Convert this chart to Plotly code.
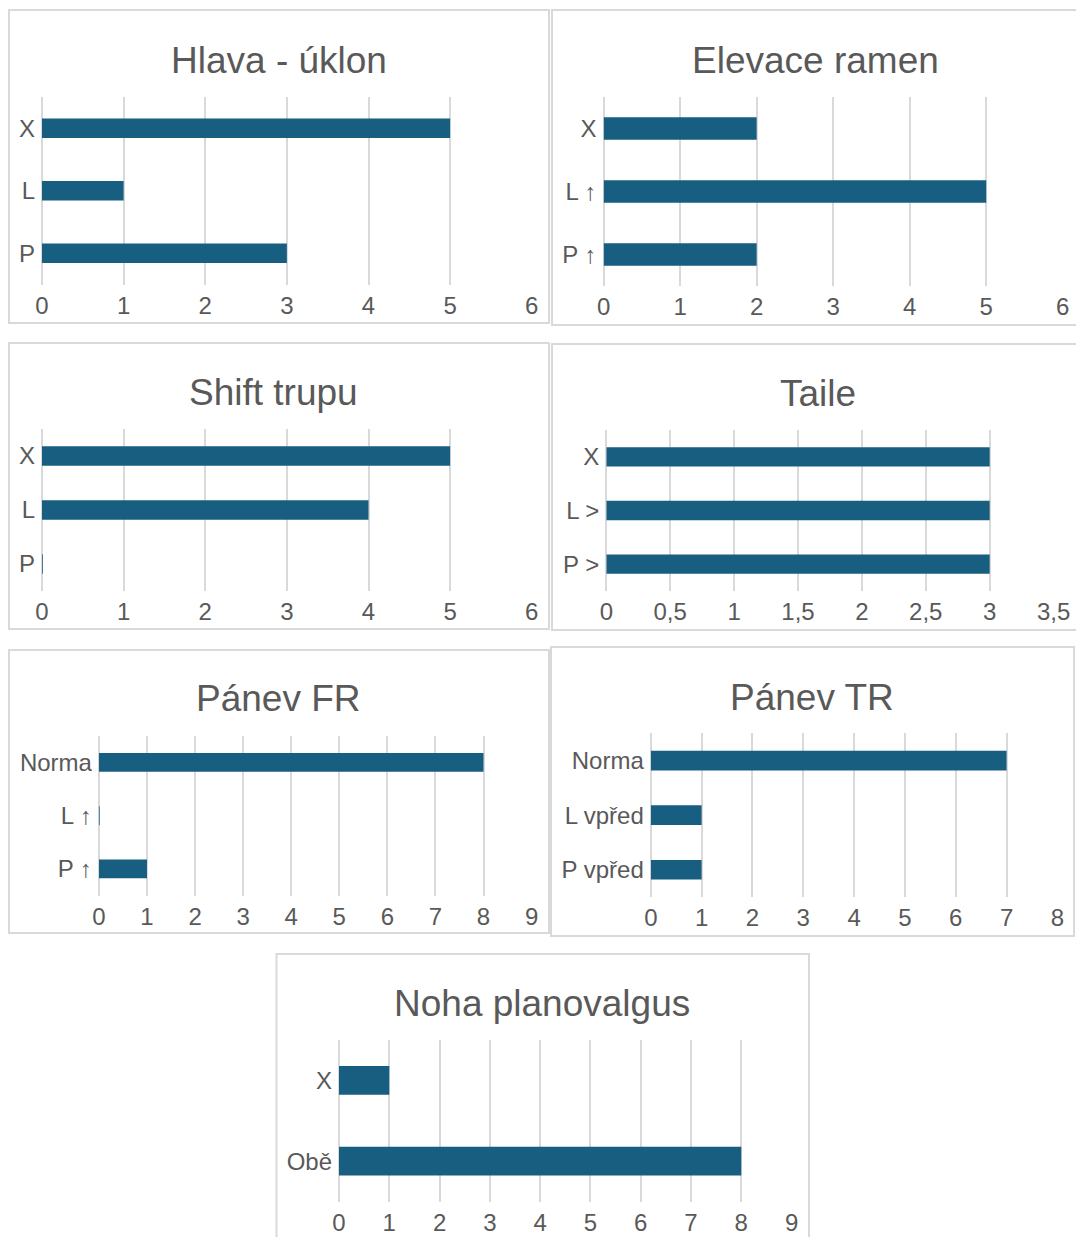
import plotly.graph_objects as go

# Posture screening results: counts per finding, one horizontal bar chart per body segment
hlava_cats = ["P", "L", "X"]
hlava_vals = [3, 1, 5]

elevace_cats = ["P ↑", "L ↑", "X"]
elevace_vals = [2, 5, 2]

shift_cats = ["P", "L", "X"]
shift_vals = [0, 4, 5]

taile_cats = ["P >", "L >", "X"]
taile_vals = [3, 3, 3]

panev_fr_cats = ["P ↑", "L ↑", "Norma"]
panev_fr_vals = [1, 0, 8]

panev_tr_cats = ["P vpřed", "L vpřed", "Norma"]
panev_tr_vals = [1, 1, 7]

noha_cats = ["Obě", "X"]
noha_vals = [8, 1]

W, H = 1076, 1237
BAR = "#175E80"
GRID = "#D9D9D9"
TEXT = "#595959"
FONT = "Liberation Sans, Arial, sans-serif"
TICK_SIZE = 24
TITLE_SIZE = 37

# title, categories, values, x max, x step,
# plot box (left, right, top, bottom) px, title centre (x, y) px, frame (l, t, r, b) px, bar thickness
panels = [
    ("Hlava - úklon", hlava_cats, hlava_vals, 6, 1,
     (42, 532, 97, 284.5), (278.5, 60), (9, 10, 549, 323), 0.315),
    ("Elevace ramen", elevace_cats, elevace_vals, 6, 1,
     (603.6, 1063, 97, 286), (815.5, 60), (552, 10, 1080, 325), 0.36),
    ("Shift trupu", shift_cats, shift_vals, 6, 1,
     (42, 532, 429, 591), (273.5, 392), (9, 343, 549, 629), 0.365),
    ("Taile", taile_cats, taile_vals, 3.5, 0.5,
     (606.3, 1053.8, 430, 591), (817.5, 393), (552, 344, 1080, 630), 0.36),
    ("Pánev FR", panev_fr_cats, panev_fr_vals, 9, 1,
     (98.9, 531.8, 735.7, 895.5), (278.6, 698), (9, 650, 549, 933), 0.35),
    ("Pánev TR", panev_tr_cats, panev_tr_vals, 8, 1,
     (650.8, 1057.6, 733.3, 897), (811.8, 697), (551, 647, 1074, 936), 0.36),
    ("Noha planovalgus", noha_cats, noha_vals, 9, 1,
     (339, 791.8, 1040, 1201.6), (541.7, 1003), (276.5, 954, 809, 1245), 0.355),
]

fig = go.Figure()
layout = dict(
    width=W, height=H,
    autosize=False,
    margin=dict(l=0, r=0, t=0, b=0, pad=0),
    paper_bgcolor="white", plot_bgcolor="white",
    showlegend=False,
    separators=", ",
    font=dict(family=FONT, color=TEXT, size=TICK_SIZE),
)
shapes = []
annotations = []

for i, (title, cats, vals, xmax, step, box, tpos, frame, thick) in enumerate(panels):
    n = i + 1
    xa = "x" if n == 1 else f"x{n}"
    ya = "y" if n == 1 else f"y{n}"
    xkey = "xaxis" if n == 1 else f"xaxis{n}"
    ykey = "yaxis" if n == 1 else f"yaxis{n}"
    left, right, top, bottom = box

    fig.add_trace(go.Bar(
        x=vals, y=cats, orientation="h",
        xaxis=xa, yaxis=ya,
        width=thick,
        marker=dict(color=BAR, line=dict(width=0)),
        hoverinfo="x+y",
    ))

    # zero counts still get a hairline mark at the axis origin
    for k, v in enumerate(vals):
        if v == 0:
            shapes.append(dict(
                type="line", xref=xa, yref=ya,
                x0=v, x1=v, y0=k - thick / 2, y1=k + thick / 2,
                line=dict(color=BAR, width=1.5), layer="above",
            ))

    layout[xkey] = dict(
        domain=[left / W, right / W],
        anchor=ya,
        automargin=False,
        range=[0, xmax * 1.0005],
        tick0=0, dtick=step,
        showgrid=True, gridcolor=GRID, gridwidth=2,
        zeroline=True, zerolinecolor=GRID, zerolinewidth=2,
        showline=False, ticks="",
        tickfont=dict(size=TICK_SIZE, color=TEXT, family=FONT),
        ticklabelstandoff=4,
        fixedrange=True,
    )
    layout[ykey] = dict(
        domain=[1 - bottom / H, 1 - top / H],
        anchor=xa,
        automargin=False,
        type="category",
        categoryorder="array", categoryarray=cats,
        range=[-0.5, len(cats) - 0.5],
        showgrid=False, zeroline=False, showline=False, ticks="",
        tickfont=dict(size=TICK_SIZE, color=TEXT, family=FONT),
        ticklabelstandoff=6,
        fixedrange=True,
    )

    fl, ft, fr, fb = frame
    shapes.append(dict(
        type="rect", xref="paper", yref="paper",
        x0=fl / W, x1=fr / W, y0=1 - fb / H, y1=1 - ft / H,
        line=dict(color=GRID, width=2), fillcolor="rgba(0,0,0,0)", layer="below",
    ))

    annotations.append(dict(
        text=title, xref="paper", yref="paper",
        x=tpos[0] / W, y=1 - tpos[1] / H,
        xanchor="center", yanchor="middle", showarrow=False,
        font=dict(size=TITLE_SIZE, color=TEXT, family=FONT),
    ))

layout["shapes"] = shapes
layout["annotations"] = annotations
fig.update_layout(**layout)

fig.write_html("out.html")
